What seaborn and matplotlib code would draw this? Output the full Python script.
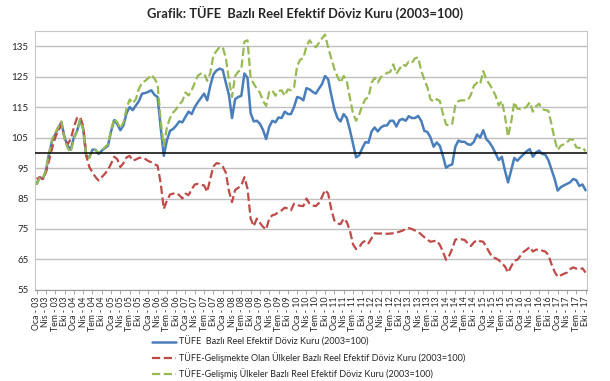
import seaborn as sns
import pandas as pd
from matplotlib import pyplot as plt

# monthly values, Oca-03 .. Eki-17
tufe = [89.8, 92, 91.4, 94, 99.6, 104, 106, 108.3, 110, 105, 102.3, 101,
        105, 107, 110.7, 108, 99, 98.5, 101, 101, 99.6, 100.7, 101.5, 102.3,
        107, 110.7, 109.4, 107.4, 109, 113, 115, 114, 115.5, 117, 119.4, 119.6,
        120, 120.5, 119, 118.3, 108.3, 99, 104, 107.2, 107.8, 108.9, 110.3, 110,
        111.8, 113.5, 112.7, 115, 116.6, 118, 119.4, 117.2, 122, 125.7, 127, 127.6,
        127.2, 123, 119, 111.4, 117.6, 118.3, 118.7, 126, 124.6, 113, 110.3, 110.5,
        109.5, 107.5, 104.5, 108.5, 110.5, 110, 111.6, 111.4, 113.5, 112.7, 112.7, 115,
        118.3, 118, 117.2, 121.2, 120.8, 120, 119.4, 121, 122.5, 125.2, 124.1, 119,
        114.3, 111.4, 110.3, 112.7, 111.4, 107.5, 103, 98.5, 99.2, 101.5, 103.5, 103.3,
        107, 108.3, 107, 108.3, 108.9, 109, 110.5, 110.5, 108.6, 110.7, 111.1, 110.5,
        112, 111.4, 111.4, 112.1, 110.5, 107.2, 106.8, 105, 102, 103.4, 102.3, 99,
        95.1, 95.8, 96.2, 102, 104, 103.6, 103.6, 102.8, 102.6, 103.6, 106, 105,
        107.4, 104.5, 103.4, 101.8, 99.8, 97.6, 98.7, 94.2, 90.3, 94.2, 98.3, 97.4,
        98.5, 99.5, 100.5, 101.2, 98.7, 100.1, 100.7, 99.6, 99.4, 97.6, 94.5, 91.5,
        87.6, 88.7, 89.3, 89.8, 90.3, 91.4, 91, 89.1, 89.6, 87.7]

gelismekte = [91.4, 92, 91.4, 93.6, 97.4, 101.5, 105, 107.2, 109.2, 105, 102.8, 104.5,
              108.3, 111.4, 111.8, 108.9, 99, 95.3, 93.6, 92, 90.9, 92, 93.1, 94.4,
              96.4, 98.7, 97.9, 95.3, 96.6, 98.5, 99, 97.4, 97.8, 98.3, 98.5, 98,
              97.3, 96.9, 96.2, 95.8, 90, 81.6, 84.3, 86.3, 86.6, 86.8, 86.1, 85,
              86.6, 86.1, 88, 89.6, 89.8, 89.5, 89.3, 87.2, 91.5, 95.5, 96.6, 96.4,
              95.5, 93.5, 87.5, 83.8, 87.8, 88.5, 89.3, 92, 88.2, 78.4, 75.9, 78.4,
              77, 75.7, 74.8, 78.4, 79.5, 79.8, 80.6, 81.1, 82, 81.7, 81.1, 83.3,
              82.8, 82.6, 82.5, 85, 83.3, 82.7, 82.5, 83.5, 85.5, 87.8, 86.6, 81.5,
              77.8, 76.8, 76.6, 78.4, 77.3, 74.5, 70, 68.4, 69, 70.5, 71.2, 70.3,
              72, 73.6, 73.5, 73.5, 73.6, 73.4, 73.5, 73.6, 73.8, 74.1, 74.5, 74.9,
              75.3, 75, 74.5, 74.1, 73.2, 72.3, 71.5, 70.8, 71, 71.2, 69.8, 67.6,
              64.9, 66.2, 68.5, 71.5, 71.8, 71.6, 71.4, 70.3, 69.4, 70.6, 71.4, 71,
              70.8, 69.1, 67.3, 65.7, 65.4, 64.8, 63.8, 62.7, 60.7, 62.7, 64.6, 64.9,
              66.2, 67.5, 68.2, 69.1, 67.6, 68.2, 68.3, 67.9, 67.6, 66.5, 63.5, 61,
              59.3, 59.8, 60.3, 60.7, 61.8, 62.4, 62, 61.8, 62.1, 60.7]

gelismis = [89.5, 91.8, 91.5, 94.5, 99.8, 104.5, 106.5, 108.5, 110.3, 104.5, 101.5, 100.3,
            104.5, 107, 110.8, 107.5, 98.8, 98.3, 101, 101, 99.8, 100.8, 101.8, 102.8,
            107.5, 111.2, 110, 108, 110, 114.5, 117.5, 116.2, 117.6, 121, 123, 123.6,
            124.5, 125.6, 124.4, 122.5, 110.5, 102.3, 108.3, 111.4, 113.2, 114.3, 115.8, 117,
            119.8, 118.8, 120.5, 123, 125.3, 126, 126, 123.6, 126.2, 132, 133.4, 134.7,
            134.6, 131.2, 124, 118.3, 125.2, 126.6, 127.4, 136.5, 136.9, 124.6, 122.7, 121,
            119.7, 117, 115.4, 120, 120.5, 118.7, 120.3, 120.5, 118.7, 120.8, 120.5, 121.4,
            128.5, 130.6, 131, 135, 136.9, 135.5, 134.6, 136, 137.5, 138.8, 134.5, 131,
            127.5, 125, 123, 125.2, 123.6, 118, 113, 110.5, 112.5, 115.5, 117.6, 118.2,
            123, 124.6, 123, 124.8, 125.5, 126.2, 126.5, 129, 125.9, 127.5, 129, 128.5,
            129.9, 129.5, 131, 131.3, 127, 124, 121.5, 117.5, 116.8, 117.6, 117, 112.8,
            109.3, 108.9, 109.5, 115.5, 117, 117.2, 117.2, 117.2, 119, 122, 123, 122.5,
            126.8, 124.1, 122.5, 120.8, 118.7, 115.5, 117, 112, 105.3, 110, 116.6, 114.5,
            114.3, 114.5, 115.1, 116.6, 113.5, 115.2, 116.1, 114.3, 114, 113.8, 109.4, 104.5,
            100.9, 102.3, 102.8, 103.4, 104.5, 104.2, 101.8, 101.6, 101.8, 100.5]

aylar = ["Oca", "Şub", "Mar", "Nis", "May", "Haz", "Tem", "Ağu", "Eyl", "Eki", "Kas", "Ara"]
etiketler = [f"{aylar[i % 12]} - {3 + i // 12:02d}" for i in range(len(tufe))]

seriler = [
    ("TÜFE  Bazlı Reel Efektif Döviz Kuru (2003=100)", tufe, "#4a7ebb", "-", 1.8),
    ("TÜFE-Gelişmekte Olan Ülkeler Bazlı Reel Efektif Döviz Kuru (2003=100)", gelismekte, "#be4b48", "--", 1.6),
    ("TÜFE-Gelişmiş Ülkeler Bazlı Reel Efektif Döviz Kuru (2003=100)", gelismis, "#98b954", "--", 1.6),
]

sns.set_style("white")
plt.rcParams['font.family'] = ['Lato', 'DejaVu Sans']

fig, ax = plt.subplots(figsize=(6.1, 3.81), dpi=100)
fig.subplots_adjust(left=0.058, right=0.962, top=0.919, bottom=0.239)

for ad, vals, renk, stil, lw in seriler:
    df = pd.DataFrame({"ay": range(len(vals)), "deger": vals})
    sns.lineplot(data=df, x="ay", y="deger", ax=ax, color=renk, linestyle=stil,
                 linewidth=lw, label=ad)

ax.axhline(100, color="black", linewidth=1.1, zorder=3)

ax.set_ylim(55, 140)
ax.set_yticks(range(55, 136, 10))
ax.set_xlim(-0.4, len(tufe) - 0.6)
ax.set_xticks(range(0, len(tufe), 3))
ax.set_xticklabels(etiketler[::3], rotation=90, fontsize=6.3)
ax.tick_params(axis="y", labelsize=7, length=0, pad=5)
ax.tick_params(axis="x", length=3, width=0.6, color="#999999", pad=1.5, direction="out", bottom=True)
ax.yaxis.grid(True, color="#c0c0c0", linewidth=1)
ax.set_xlabel("")
ax.set_ylabel("")
for s in ax.spines.values():
    s.set_color("#c8c8c8")
    s.set_linewidth(0.8)
ax.spines["bottom"].set_color("#999999")

h, l = ax.get_legend_handles_labels()
ax.legend_.remove()
fig.legend(h, l, loc="upper left", bbox_to_anchor=(0.242, 0.128), frameon=False,
           fontsize=6.5, handlelength=2.6, labelspacing=0.55, borderpad=0, handletextpad=0.4)

fig.suptitle("Grafik: TÜFE  Bazlı Reel Efektif Döviz Kuru (2003=100)", fontsize=9.3,
             fontweight="bold", y=0.985)

fig.savefig("out.png", dpi=100)
